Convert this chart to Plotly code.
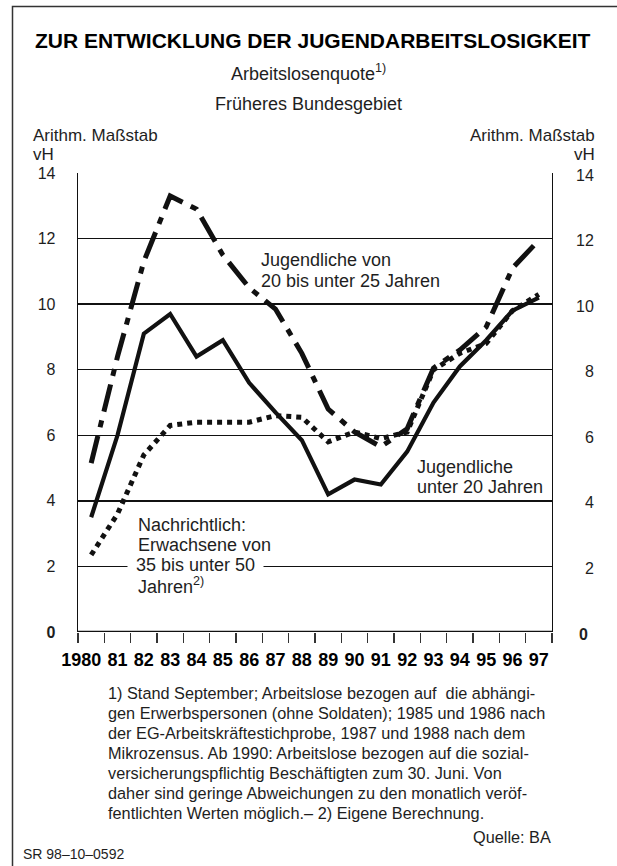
import plotly.graph_objects as go

# ---------------- data ----------------
years = list(range(1980, 1998))
year_labels = ["1980", "81", "82", "83", "84", "85", "86", "87", "88", "89",
               "90", "91", "92", "93", "94", "95", "96", "97"]
under20 = [3.5, 6.0, 9.1, 9.7, 8.4, 8.9, 7.6, 6.7, 5.85, 4.2,
           4.65, 4.5, 5.5, 7.0, 8.1, 8.9, 9.8, 10.2]
age20_25 = [5.15, 8.4, 11.3, 13.3, 12.9, 11.5, 10.5, 9.85, 8.5, 6.8,
            6.1, 5.65, 6.2, 8.05, 8.6, 9.3, 11.1, 11.95]
adults35_50 = [2.35, 3.6, 5.4, 6.3, 6.4, 6.4, 6.4, 6.6, 6.55, 5.8,
               6.1, 5.9, 6.1, 8.0, 8.5, 8.8, 9.8, 10.3]
y_ticks = [0, 2, 4, 6, 8, 10, 12, 14]
y_ticktext = ["<b>0</b>", "2", "4", "6", "8", "10", "12", "14"]

footnote_lines = [
    "1) Stand September; Arbeitslose bezogen auf  die abhängi-",
    "gen Erwerbspersonen (ohne Soldaten); 1985 und 1986 nach",
    "der EG-Arbeitskräftestichprobe, 1987 und 1988 nach dem",
    "Mikrozensus. Ab 1990: Arbeitslose bezogen auf die sozial-",
    "versicherungspflichtig Beschäftigten zum 30. Juni. Von",
    "daher sind geringe Abweichungen zu den monatlich veröf-",
    "fentlichten Werten möglich.– 2) Eigene Berechnung.",
]

# ---------------- style ----------------
FONT = "Liberation Sans, Arial, Helvetica, sans-serif"
INK = "#111111"
TXT = "#1e1e1e"
W, H = 617, 866
X0, X1, Y0, Y1 = 78, 552, 173, 632  # plot box in px


def px(x):
    return (x - X0) / (X1 - X0)


def py(y):
    return (Y1 - y) / (Y1 - Y0)


xs = [y + 0.5 for y in years]
ticktext = [year_labels[0] + "<span style='color:rgba(0,0,0,0)'>19</span>"] + year_labels[1:]

fig = go.Figure()
fig.add_trace(go.Scatter(x=xs, y=adults35_50, mode="lines",
                         line=dict(color=INK, width=5, dash="5px,5px"),
                         hoverinfo="skip"))
fig.add_trace(go.Scatter(x=xs, y=age20_25, mode="lines",
                         line=dict(color=INK, width=5, dash="28px,9px,7px,9px"),
                         hoverinfo="skip"))
fig.add_trace(go.Scatter(x=xs, y=under20, mode="lines",
                         line=dict(color=INK, width=4.2),
                         hoverinfo="skip"))

ann = []


def text(x, y, s, size=18, xanchor="left", yanchor="middle", **kw):
    d = dict(x=px(x), y=py(y), xref="paper", yref="paper", text=s,
             showarrow=False, xanchor=xanchor, yanchor=yanchor,
             font=dict(family=FONT, size=size, color=TXT))
    d.update(kw)
    ann.append(d)


# titles
text(313, 40, "ZUR ENTWICKLUNG DER JUGENDARBEITSLOSIGKEIT",
     xanchor="center", font=dict(family=FONT, size=21, color="#000", weight="bold"))
text(308, 73, "Arbeitslosenquote<sup>1)</sup>", xanchor="center")
text(308, 104, "Früheres Bundesgebiet", xanchor="center")
text(31, 135, "Arithm. Maßstab", size=17)
text(31, 155, "vH", size=17)
text(597, 135, "Arithm. Maßstab", size=17, xanchor="right")
text(597, 155, "vH", size=17, xanchor="right")

# right-hand tick labels
for v, t in zip(y_ticks, y_ticktext):
    ann.append(dict(x=px(596 if v != 0 else 590), y=v, xref="paper", yref="y",
                    text=t, showarrow=False, xanchor="right", yanchor="middle",
                    yshift=-2, font=dict(family=FONT, size=16, color=TXT)))

# in-plot labels (background one first)
text(127, 565, "35 bis unter 50", bgcolor="white", borderpad=8)
text(136, 525, "Nachrichtlich:")
text(136, 545, "Erwachsene von")
text(136, 585, "Jahren<sup>2)</sup>")
text(259, 260, "Jugendliche von")
text(259, 281, "20 bis unter 25 Jahren")
text(415, 467, "Jugendliche")
text(415, 487, "unter 20 Jahren")

# footnotes
for i, line in enumerate(footnote_lines):
    text(106, 693 + 20 * i, line, size=16.3)
text(553, 837, "Quelle: BA", size=16.3, xanchor="right")
text(21, 854, "SR 98–10–0592", size=14)

shapes = [
    # outer frame (left and top edges visible)
    dict(type="rect", xref="paper", yref="paper", x0=px(12.5), x1=px(640),
         y0=py(6.5), y1=py(900), line=dict(color="#333", width=1.5)),
    # bottom axis line
    dict(type="line", xref="paper", yref="y", x0=px(77), x1=px(553), y0=0, y1=0,
         line=dict(color=INK, width=2.6)),
]

fig.update_layout(
    width=W, height=H,
    margin=dict(l=X0, r=W - X1, t=Y0, b=H - Y1, pad=0),
    paper_bgcolor="white", plot_bgcolor="white",
    showlegend=False,
    annotations=ann,
    shapes=shapes,
    xaxis=dict(range=[1980, 1998], tickmode="array", tickvals=xs, ticktext=ticktext,
               ticks="", showgrid=False, zeroline=False, showline=False,
               tickangle=0, automargin=False,
               tickfont=dict(family=FONT, size=18, color="#000", weight="bold"),
               ticklabelstandoff=15,
               minor=dict(tickmode="array", tickvals=list(range(1980, 1999)),
                          ticks="outside", ticklen=10, tickwidth=1.3,
                          tickcolor="#333", showgrid=False)),
    yaxis=dict(range=[0, 14], tickmode="array", tickvals=y_ticks, ticktext=y_ticktext,
               ticks="", showgrid=True, gridcolor=INK, gridwidth=1.5, zeroline=False,
               showline=True, mirror=True, linecolor=INK, linewidth=1.3,
               automargin=False,
               tickfont=dict(family=FONT, size=16, color=TXT),
               ticklabelstandoff=18),
)

fig.write_html(
    "out.html",
    config={"displayModeBar": False, "staticPlot": True},
    post_script="document.body.style.margin='0px';document.body.style.overflow='hidden';",
)
